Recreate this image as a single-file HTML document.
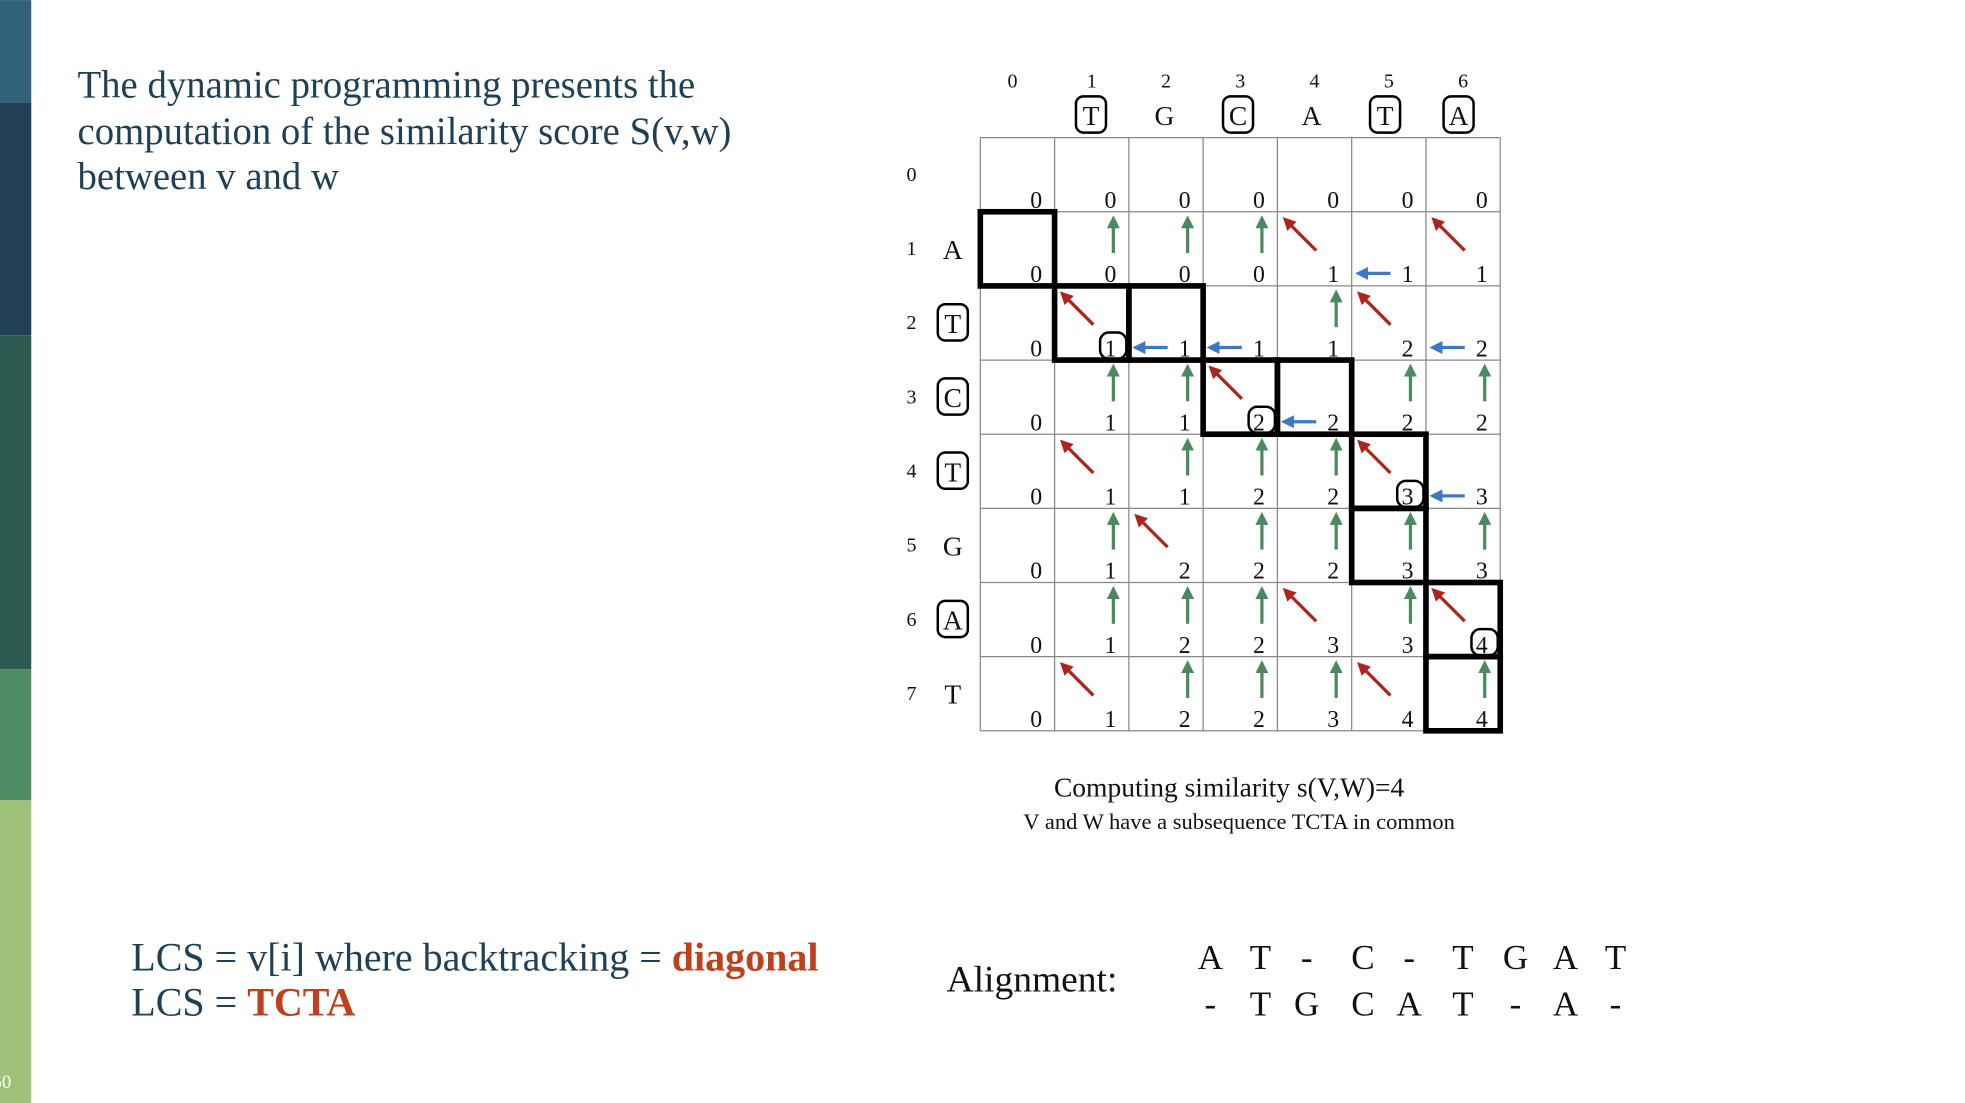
<!DOCTYPE html>
<html><head><meta charset="utf-8"><style>
html,body{margin:0;padding:0;background:#fff;width:1965px;height:1103px;overflow:hidden}
svg{display:block}
text{font-family:"Liberation Serif",serif}
</style></head><body>
<svg id="slide" width="1965" height="1103" viewBox="0 0 1571.5 882" xmlns="http://www.w3.org/2000/svg">
<g>
<rect x="0" y="0" width="25" height="82" fill="#32627a"/>
<rect x="0" y="82" width="25" height="186" fill="#223f55"/>
<rect x="0" y="268" width="25" height="267" fill="#2c5a50"/>
<rect x="0" y="535" width="25" height="105" fill="#4f8c63"/>
<rect x="0" y="640" width="25" height="250" fill="#9dc07a"/>
<text x="-6" y="870" font-size="15" fill="#fff" font-family="Liberation Sans">50</text>
</g>
<g fill="#1f3f55" font-size="31">
<text x="62" y="78">The dynamic programming presents the</text>
<text x="62" y="115">computation of the similarity score S(v,w)</text>
<text x="62" y="151">between v and w</text>
</g>
<g id="grid"></g>
<g fill="#111" text-anchor="middle">
<text x="983" y="637" font-size="22">Computing similarity s(V,W)=4</text>
<text x="991" y="663" font-size="18">V and W have a subsequence TCTA in common</text>
</g>
<g font-size="32" fill="#1f3f55">
<text x="105" y="776">LCS = v[i] where backtracking = <tspan fill="#c0401e" font-weight="bold">diagonal</tspan></text>
<text x="105" y="812">LCS = <tspan fill="#c0401e" font-weight="bold">TCTA</tspan></text>
</g>
<text x="757" y="793" font-size="30" fill="#111">Alignment:</text>
<g id="align" font-size="28" fill="#111" text-anchor="middle"></g>
</svg>
<script>
const colLetters=["","T","G","C","A","T","A"];
const rowLetters=["","A","T","C","T","G","A","T"];
const colBoxed=[0,1,0,1,0,1,1];
const rowBoxed=[0,0,1,1,1,0,1,0];
const scores=[
[0,0,0,0,0,0,0],
[0,0,0,0,1,1,1],
[0,1,1,1,1,2,2],
[0,1,1,2,2,2,2],
[0,1,1,2,2,3,3],
[0,1,2,2,2,3,3],
[0,1,2,2,3,3,4],
[0,1,2,2,3,4,4]];
const arrows=[
"       ",
" UUUDLD",
" DLLUDL",
" UUDLUU",
" DUUUDL",
" UDUUUU",
" UUUDUD",
" DUUUDU"];
const pathCells=[[1,0],[2,1],[2,2],[3,3],[3,4],[4,5],[5,5],[6,6],[7,6]];
const circled=[[2,1],[3,3],[4,5],[6,6]];
const alignTop=["A","T","-","C","-","T","G","A","T"];
const alignBot=["-","T","G","C","A","T","-","A","-"];

const NS="http://www.w3.org/2000/svg";
const X0=784,Y0=110,CW=59.4,CH=59.3;
const g=document.getElementById('grid');
function el(t,a,p){const e=document.createElementNS(NS,t);for(const k in a)e.setAttribute(k,a[k]);(p||g).appendChild(e);return e;}
const cx=c=>X0+c*CW, ry=r=>Y0+r*CH;
for(let c=0;c<=7;c++){const l=el('line',{x1:cx(c),y1:ry(0),x2:cx(c),y2:ry(8),stroke:'#888','stroke-width':1});

}
for(let r=0;r<=8;r++){const l=el('line',{x1:cx(0),y1:ry(r),x2:cx(7),y2:ry(r),stroke:'#888','stroke-width':1});

}
for(let c=0;c<7;c++){
 const t=el('text',{x:cx(c)+CW/2+(c?0:-4),y:70,'font-size':16,'text-anchor':'middle',fill:'#111'});t.textContent=c;
 
 
 if(colLetters[c]){const L=el('text',{x:cx(c)+CW/2-(c*0.6),y:100,'font-size':22,'text-anchor':'middle',fill:'#111'});L.textContent=colLetters[c];
 
 
 if(colBoxed[c]){const b=el('rect',{x:cx(c)+CW/2-c*0.6-12,y:77,width:24,height:29,rx:6,fill:'none',stroke:'#000','stroke-width':2});
 
 }}
}
for(let r=0;r<8;r++){
 const y=ry(r)+CH/2;
 const t=el('text',{x:729,y:y+5,'font-size':16,'text-anchor':'middle',fill:'#111'});t.textContent=r;
 
 
 if(rowLetters[r]){const L=el('text',{x:762,y:y+8,'font-size':22,'text-anchor':'middle',fill:'#111'});L.textContent=rowLetters[r];
 
 
 if(rowBoxed[r]){const b=el('rect',{x:750,y:y-15,width:24,height:29,rx:6,fill:'none',stroke:'#000','stroke-width':2});
 
 }}
}
pathCells.forEach(([r,c])=>{const b=el('rect',{x:cx(c),y:ry(r),width:CW,height:CH,fill:'none',stroke:'#000','stroke-width':4.5});

});
const defs=el('defs',{});
[['ug','#4a8a5e'],['dr','#b0231c'],['lb','#3d78c0']].forEach(([id,col])=>{
 const m=el('marker',{id:id,markerWidth:4,markerHeight:4,refX:2,refY:2,orient:'auto',markerUnits:'strokeWidth'},defs);
 el('path',{d:'M0,0 L4,2 L0,4 Z',fill:col},m);});
for(let r=0;r<8;r++)for(let c=0;c<7;c++){
 const x=cx(c),y=ry(r);
 const n=el('text',{x:x+CW-10,y:y+CH-3,'font-size':19,'text-anchor':'end',fill:'#111'});n.textContent=scores[r][c];
 
 
 const a=arrows[r][c];let ln=null;
 if(a==='U')ln=el('line',{x1:x+47,y1:y+33,x2:x+47,y2:y+8,stroke:'#4a8a5e','stroke-width':2.6,'marker-end':'url(#ug)'});
 if(a==='D')ln=el('line',{x1:x+31,y1:y+31,x2:x+8,y2:y+8,stroke:'#b0231c','stroke-width':2.6,'marker-end':'url(#dr)'});
 if(a==='L')ln=el('line',{x1:x+31,y1:y+CH-10,x2:x+8,y2:y+CH-10,stroke:'#3d78c0','stroke-width':2.6,'marker-end':'url(#lb)'});
 if(ln){
 }
}
circled.forEach(([r,c])=>{const e=el('rect',{x:cx(c)+CW-23,y:ry(r)+CH-22,width:21,height:21,rx:7,fill:'none',stroke:'#000','stroke-width':2});

});
const ag=document.getElementById('align');
const ax=[968,1008,1045,1090,1127,1170,1212,1252,1292];
alignTop.forEach((s,i)=>{const t=el('text',{x:ax[i],y:775},ag);t.textContent=s;

});
alignBot.forEach((s,i)=>{const t=el('text',{x:ax[i],y:812},ag);t.textContent=s;

});
</script>
</body></html>
